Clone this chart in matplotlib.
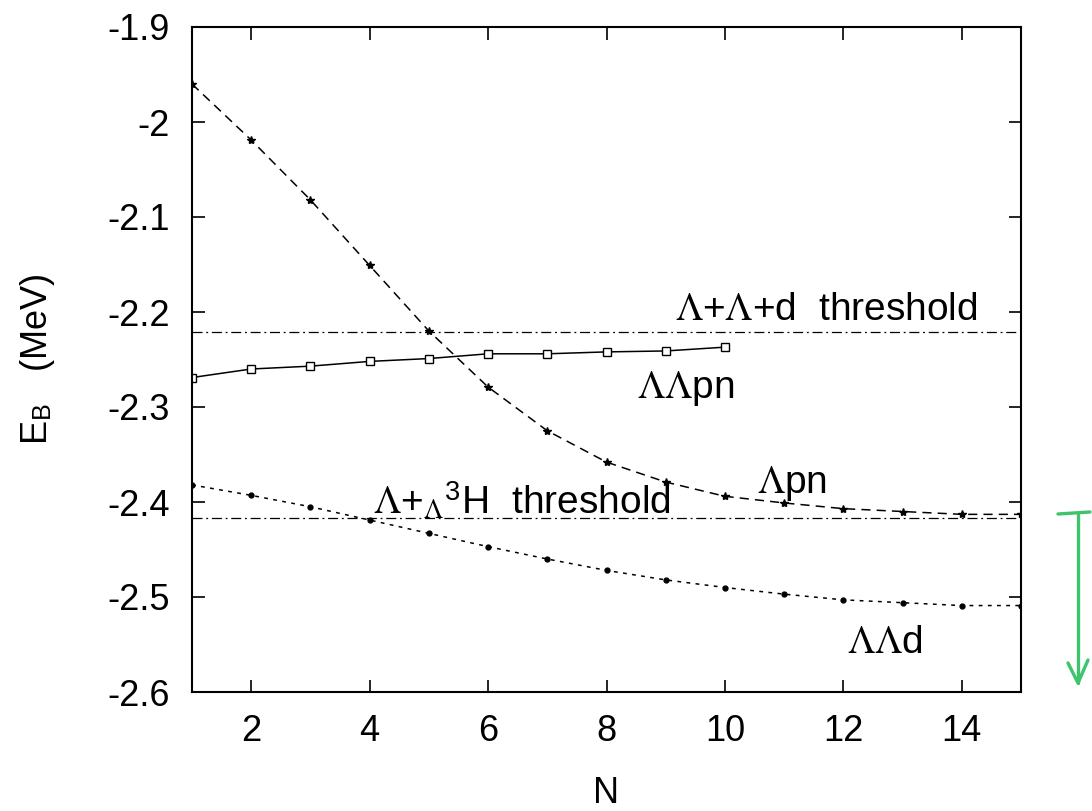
import matplotlib
matplotlib.use("Agg")
import matplotlib.pyplot as plt
from matplotlib.lines import Line2D

plt.rcParams['font.family'] = ['Liberation Sans', 'DejaVu Sans']
plt.rcParams['mathtext.fontset'] = 'stix'

# data
N_pn = [1, 2, 3, 4, 5, 6, 7, 8, 9, 10]
E_LLpn = [-2.269, -2.260, -2.257, -2.252, -2.249, -2.244, -2.244, -2.242, -2.241, -2.237]

N_all = [1, 2, 3, 4, 5, 6, 7, 8, 9, 10, 11, 12, 13, 14, 15]
E_Lpn = [-1.960, -2.019, -2.082, -2.151, -2.220, -2.279, -2.325, -2.358,
         -2.379, -2.394, -2.401, -2.407, -2.410, -2.413, -2.413]
E_LLd = [-2.382, -2.393, -2.405, -2.419, -2.433, -2.447, -2.460, -2.472,
         -2.482, -2.490, -2.497, -2.503, -2.506, -2.509, -2.509]

thr_LLd = -2.221    # Λ+Λ+d threshold
thr_LH3 = -2.417    # Λ+ΛH3 threshold

fig = plt.figure(figsize=(10.92, 8.11), dpi=100)
ax = fig.add_axes([192/1092, 1 - 692/811, (1021 - 192)/1092, (692 - 27)/811])

lw = 1.1
ax.axhline(thr_LLd, color='k', lw=0.9, ls=(0, (8, 3, 1.5, 3)))
ax.axhline(thr_LH3, color='k', lw=0.9, ls=(0, (8, 3, 1.5, 3)))

ax.plot(N_pn, E_LLpn, 'k-', lw=lw, marker='s', ms=5.5, mfc='white', mew=1.0)
ax.plot(N_all, E_Lpn, color='k', lw=lw, ls=(0, (6, 4)), marker='*', ms=6)
ax.plot(N_all, E_LLd, color='k', lw=lw, ls=(0, (2.5, 3.5)), marker='o', ms=3.5)

fs = 26
afs = 28
ax.text(9.15, -2.2085, r'$\Lambda$+$\Lambda$+d  threshold', fontsize=afs)
ax.text(8.51, -2.2905, r'$\Lambda\Lambda$pn', fontsize=afs)
ax.text(10.54, -2.3905, r'$\Lambda$pn', fontsize=afs)
ax.text(12.06, -2.559, r'$\Lambda\Lambda$d', fontsize=afs)
ax.text(4.06, -2.4126, r'$\Lambda$+${}_{\Lambda}{}^{\mathregular{3}}$H  threshold',
        fontsize=afs)

ax.set_xlim(1, 15)
ax.set_ylim(-2.6, -1.9)
ax.set_xticks([2, 4, 6, 8, 10, 12, 14])
ax.set_yticks([-2.6, -2.5, -2.4, -2.3, -2.2, -2.1, -2.0, -1.9])
ax.set_yticklabels(['-2.6', '-2.5', '-2.4', '-2.3', '-2.2', '-2.1', '-2', '-1.9'])
ax.tick_params(direction='in', length=9, width=1.2, top=True, right=True,
               labelsize=fs)
ax.tick_params(axis='y', pad=16)
ax.tick_params(axis='x', pad=16)
for s in ax.spines.values():
    s.set_linewidth(1.5)

ax.set_xlabel('N', fontsize=fs, labelpad=19)
ax.set_ylabel(r'E$_{\mathregular{B}}$   (MeV)', fontsize=fs, labelpad=36)

# green hand-drawn arrow on the right
W, H = 1092, 811
green = '#3ec46d'
def px(x, y):
    return x / W, 1 - y / H
for pts in ([(1058, 514), (1090, 512)],
            [(1078, 514), (1078, 683)],
            [(1068, 663), (1078, 683), (1088, 660)]):
    xs, ys = zip(*[px(*p) for p in pts])
    fig.add_artist(Line2D(xs, ys, color=green, lw=2.4, solid_capstyle='round'))

fig.savefig('out.png', dpi=100)
